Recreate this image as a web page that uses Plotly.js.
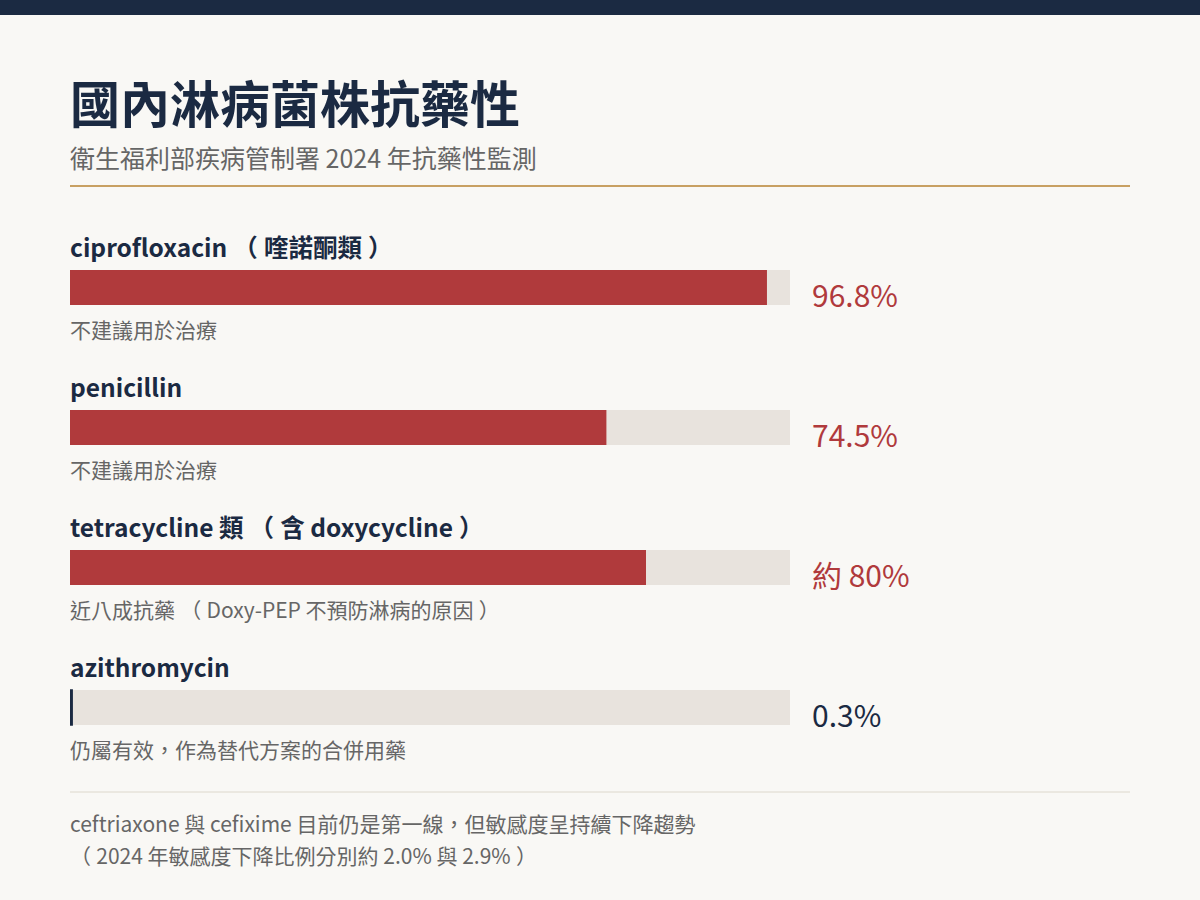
<!DOCTYPE html>
<html>
<head>
<meta charset="utf-8">
<script src="https://cdn.plot.ly/plotly-3.0.1.min.js"></script>
<style>
  html, body { margin: 0; padding: 0; background: #f9f8f5; }
  #chart { width: 1200px; height: 900px; }
</style>
</head>
<body>
<div id="chart"></div>
<script>
// data
var drugs = ['ciprofloxacin（喹諾酮類）', 'penicillin', 'tetracycline 類（含 doxycycline）', 'azithromycin'];
var resistance = [96.8, 74.5, 80, 0.3];
var valueLabels = ['96.8%', '74.5%', '約 80%', '0.3%'];
var notes = ['不建議用於治療', '不建議用於治療', '近八成抗藥（Doxy-PEP 不預防淋病的原因）', '仍屬有效，作為替代方案的合併用藥'];
var barColors = ['#b03a3c', '#b03a3c', '#b03a3c', '#1b2a42'];
var footLines = ['ceftriaxone 與 cefixime 目前仍是第一線，但敏感度呈持續下降趨勢',
                 '（2024 年敏感度下降比例分別約 2.0% 與 2.9%）'];

var navy = '#1b2a42';
var cjk = '"Noto Sans CJK TC", "Noto Sans CJK SC", sans-serif';

// full-width brackets get squeezed in svg text, pad them back out
function pad(t) {
    return t.replace(/（/g, '\u2005（\u2005').replace(/）/g, '\u2005）\u2005').replace(/^\u2005/, '');
}

var ids = drugs.map(function(d, i) { return 'r' + i; });

var track = {
    type: 'bar', orientation: 'h',
    y: ids, x: drugs.map(function() { return 100; }),
    marker: { color: '#e8e3dd' },
    width: 0.25, hoverinfo: 'skip'
};
var bars = {
    type: 'bar', orientation: 'h',
    y: ids, x: resistance,
    marker: { color: barColors, line: { color: barColors, width: [0, 0, 0, 1.5] } },
    width: 0.25, hoverinfo: 'skip'
};

var annotations = [];
drugs.forEach(function(d, i) {
    annotations.push({
        xref: 'x', yref: 'y', x: 0, y: ids[i], xanchor: 'left', yanchor: 'middle',
        xshift: -2, yshift: 41, showarrow: false, text: '<b>' + pad(d) + '</b>',
        font: { family: cjk, size: 24.5, color: navy }
    });
    annotations.push({
        xref: 'x', yref: 'y', x: 0, y: ids[i], xanchor: 'left', yanchor: 'middle',
        xshift: -2, yshift: -41, showarrow: false, text: pad(notes[i]),
        font: { family: cjk, size: 21, color: '#666' }
    });
    annotations.push({
        xref: 'x', yref: 'y', x: 100, y: ids[i], xanchor: 'left', yanchor: 'middle',
        xshift: 20, yshift: -6, showarrow: false, text: valueLabels[i],
        font: { family: cjk, size: 30, color: barColors[i] }
    });
});

annotations.push({
    xref: 'paper', yref: 'paper', x: 68 / 1200, y: 1 - 101 / 900, xanchor: 'left', yanchor: 'middle',
    showarrow: false, text: '<b>國內淋病菌株抗藥性</b>',
    font: { family: cjk, size: 50, color: navy }
});
annotations.push({
    xref: 'paper', yref: 'paper', x: 68 / 1200, y: 1 - 157 / 900, xanchor: 'left', yanchor: 'middle',
    showarrow: false, text: '衛生福利部疾病管制署 2024 年抗藥性監測',
    font: { family: cjk, size: 25, color: '#666' }
});
footLines.forEach(function(t, i) {
    annotations.push({
        xref: 'paper', yref: 'paper', x: 68 / 1200, y: 1 - (823 + 32 * i) / 900,
        xanchor: 'left', yanchor: 'middle', showarrow: false, text: pad(t),
        font: { family: cjk, size: 21, color: '#666' }
    });
});

var layout = {
    width: 1200, height: 900,
    margin: { l: 0, r: 0, t: 0, b: 0 },
    paper_bgcolor: '#f9f8f5', plot_bgcolor: '#f9f8f5',
    showlegend: false, barmode: 'overlay',
    xaxis: { domain: [70 / 1200, 790 / 1200], range: [0, 100], visible: false, fixedrange: true },
    yaxis: { range: [612.5 / 140, -287.5 / 140], visible: false, fixedrange: true,
             categoryorder: 'array', categoryarray: ids },
    shapes: [
        { type: 'rect', xref: 'paper', yref: 'paper', x0: 0, x1: 1, y0: 1 - 15 / 900, y1: 1,
          fillcolor: navy, line: { width: 0 } },
        { type: 'line', xref: 'paper', yref: 'paper', x0: 70 / 1200, x1: 1130 / 1200,
          y0: 1 - 186 / 900, y1: 1 - 186 / 900, line: { color: '#c8a062', width: 2 } },
        { type: 'line', xref: 'paper', yref: 'paper', x0: 70 / 1200, x1: 1130 / 1200,
          y0: 1 - 792 / 900, y1: 1 - 792 / 900, line: { color: '#ddd8cc', width: 1 } }
    ],
    annotations: annotations
};

Plotly.newPlot('chart', [track, bars], layout, { displayModeBar: false, staticPlot: true });
</script>
</body>
</html>
